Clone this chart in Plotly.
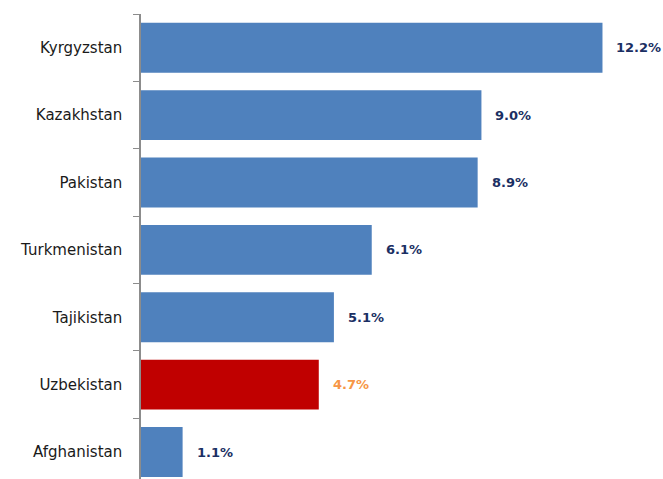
import plotly.graph_objects as go

# Country values (percent), listed top to bottom
countries = ["Kyrgyzstan", "Kazakhstan", "Pakistan", "Turkmenistan",
             "Tajikistan", "Uzbekistan", "Afghanistan"]
values = [12.2, 9.0, 8.9, 6.1, 5.1, 4.7, 1.1]
value_labels = ["12.2%", "9.0%", "8.9%", "6.1%", "5.1%", "4.7%", "1.1%"]

BLUE = "#4F81BD"
RED = "#C00000"
NAVY = "#1B2F63"
ORANGE = "#F79646"

highlight = "Uzbekistan"
bar_colors = [RED if c == highlight else BLUE for c in countries]
label_colors = [ORANGE if c == highlight else NAVY for c in countries]

fig = go.Figure(
    go.Bar(
        x=values,
        y=countries,
        orientation="h",
        marker=dict(color=bar_colors, line=dict(width=0)),
        hoverinfo="skip",
    )
)

for c, v, t, col in zip(countries, values, value_labels, label_colors):
    fig.add_annotation(
        x=v, y=c, text=f"<b>{t}</b>", showarrow=False,
        xanchor="left", yanchor="middle", xshift=12,
        font=dict(family="DejaVu Sans", size=13, color=col),
    )

fig.update_layout(
    width=663, height=479,
    margin=dict(l=141, r=0, t=14, b=0),
    paper_bgcolor="white", plot_bgcolor="white",
    bargap=0.26,
    showlegend=False,
    xaxis=dict(range=[0, 13.8], visible=False, fixedrange=True),
    yaxis=dict(
        type="category",
        categoryorder="array", categoryarray=countries,
        range=[6.4, -0.5],
        showline=True, linecolor="#8C8C8C", linewidth=1.5,
        ticks="outside", tickson="boundaries", ticklen=6,
        tickcolor="#8C8C8C", tickwidth=1,
        showgrid=False, zeroline=False,
        ticklabelstandoff=14,
        tickfont=dict(family="DejaVu Sans", size=15, color="#1A1A1A"),
    ),
)

fig.write_html("out.html")
